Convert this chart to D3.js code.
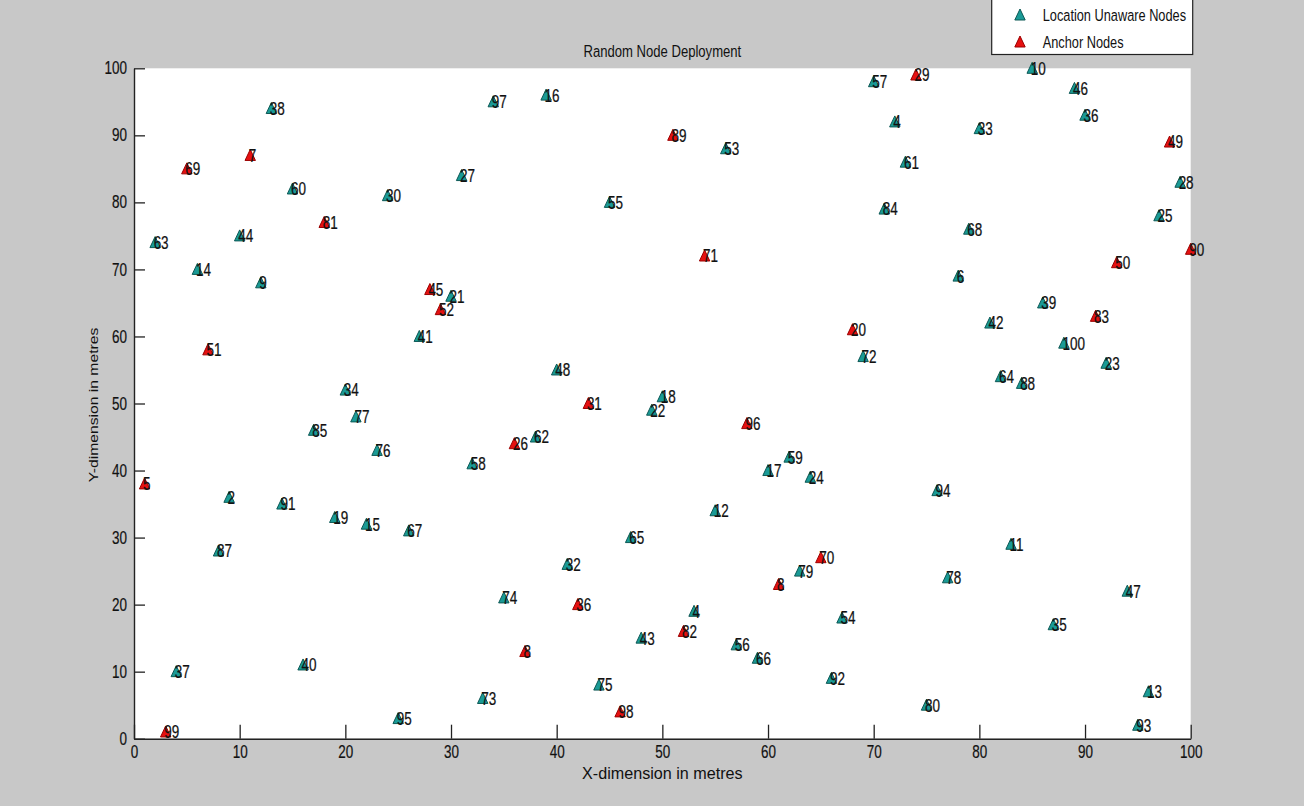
<!DOCTYPE html>
<html><head><meta charset="utf-8">
<script src="https://cdn.jsdelivr.net/npm/d3@7"></script>
<style>
html,body{margin:0;padding:0;background:#c8c8c8;}
svg{display:block;}
text{font-family:"Liberation Sans",Arial,sans-serif;fill:#111;}
</style></head>
<body>
<svg id="chart" width="1304" height="806"></svg>
<script>
// ---- data ----
const unawareX = [13,15,31,24,2,10,6,12, 34,39,56,45, 70,85,89,90,72,80,73,99,71,97,79,78,
  30,27,20,21,17,23,32,9,14,19,22, 40,50,49,38,62,60,64,55, 86,81,88,69,92,82,84,76,
  26,8,4,16,25, 47,41,63,35,53,67,48,57,59,66,44,33, 83,77,94,87,96,75,95];
const unawareY = [94,82,84,81,74,75,70,68, 95,96,88,80, 98,100,97,93,92,91,86,83,79,78,76,69,
  66,60,52,48,46,43,41,36,35,33,32, 55,51,49,45,42,40,39,34, 65,62,59,57,56,54,53,37,
  31,28,10,11,3, 30,26,25,21,19,18,15,14,12,9,8,6, 29,24,22,17,7,5,2];
const unawareLabel = ["38","60","27","30","63","44","14","9", "97","16","53","55",
  "57","10","46","36","4","33","61","28","84","25","68","6",
  "21","41","34","77","85","76","58","2","91","19","15", "48","18","22","62","59","17","24","12",
  "39","42","100","72","23","64","88","94", "67","87","37","40","95",
  "65","32","79","74","4","54","43","56","66","92","75","73", "11","78","47","35","13","80","93"];

const anchorX = [11,5,18,28,29,7,51,54,74,98,100,93,91,68,43,58,36,1,3,65,61,42,52,37,46];
const anchorY = [87,85,77,67,64,58,90,72,99,89,73,71,63,61,50,47,44,38,1,27,23,20,16,13,4];
const anchorLabel = ["7","69","81","45","52","51","89","71","29","49","90","50","83","20",
  "31","96","26","5","99","70","8","36","82","8","98"];

const xTicks = [0,10,20,30,40,50,60,70,80,90,100];
const yTicks = [0,10,20,30,40,50,60,70,80,90,100];
const seriesNames = ["Location Unaware Nodes","Anchor Nodes"];
const chartTitle = "Random Node Deployment";
const xTitle = "X-dimension in metres";
const yTitle = "Y-dimension in metres";

// ---- layout ----
const SX = 0.77; // horizontal text squash
const svg = d3.select("#chart");
const L = 134, R = 1190.7, T = 68.3, B = 738.7;
const x = d3.scaleLinear().domain([0,100]).range([L,R]);
const y = d3.scaleLinear().domain([0,100]).range([B,T]);
const teal = "#1a9a96", tealEdge = "#0d5855";
const red = "#e61010", redEdge = "#9a0000";

svg.append("rect").attr("width",1304).attr("height",806).attr("fill","#c8c8c8");
svg.append("rect").attr("x",L).attr("y",T).attr("width",R-L).attr("height",B-T).attr("fill","#fff");

const tri = "M0,-6L5.2,5L-5.2,5Z";

function nodes(xs, ys, labels, fill, edge){
  const g = svg.append("g");
  const d = xs.map((v,i)=>({x:v,y:ys[i],l:labels[i]}));
  g.selectAll("path").data(d).join("path")
    .attr("d",tri)
    .attr("transform",p=>`translate(${x(p.x)},${y(p.y)})`)
    .attr("fill",fill).attr("stroke",edge).attr("stroke-width",1);
  return d;
}
const dU = nodes(unawareX, unawareY, unawareLabel, teal, tealEdge);
const dA = nodes(anchorX, anchorY, anchorLabel, red, redEdge);

const lg = svg.append("g");
lg.selectAll("text").data(dU.concat(dA)).join("text")
  .attr("transform",p=>`translate(${x(p.x)-1.5},${y(p.y)+6.4}) scale(${SX},1)`)
  .style("font-size","17.5px").attr("stroke","#111").attr("stroke-width",0.25)
  .text(p=>p.l);

// axes
const xa = svg.append("g").attr("transform",`translate(0,${B})`)
  .call(d3.axisBottom(x).tickValues(xTicks).tickSizeInner(-14).tickSizeOuter(0).tickPadding(6.5).tickFormat(d3.format("d")));
const ya = svg.append("g").attr("transform",`translate(${L},0)`)
  .call(d3.axisLeft(y).tickValues(yTicks).tickSizeInner(-11).tickSizeOuter(0).tickPadding(9).tickFormat(d3.format("d")));
[xa,ya].forEach(a=>{
  a.select(".domain").attr("stroke","#222").attr("stroke-width",1.4);
  a.selectAll(".tick line").attr("stroke","#222").attr("stroke-width",1.3);
  a.selectAll(".tick text").attr("fill","#111").style("font-size","17.5px")
    .style("font-family","'Liberation Sans',Arial,sans-serif")
    .attr("stroke","#111").attr("stroke-width",0.2)
    .attr("transform",`scale(${SX},1)`);
});

// titles
svg.append("text").attr("transform",`translate(${(L+R)/2},56.5) scale(${SX},1)`)
  .attr("text-anchor","middle").style("font-size","17px").text(chartTitle);
svg.append("text").attr("transform",`translate(${(L+R)/2},779) scale(0.95,1)`)
  .attr("text-anchor","middle").style("font-size","17px").text(xTitle);
svg.append("text").attr("transform",`translate(98,405) scale(${SX},1) rotate(-90)`)
  .attr("text-anchor","middle").style("font-size","15.7px").text(yTitle);

// legend
const leg = svg.append("g");
leg.append("rect").attr("x",991.7).attr("y",-5).attr("width",201).attr("height",59.5)
  .attr("fill","#fff").attr("stroke","#222").attr("stroke-width",1.2);
const legItems = [{n:seriesNames[0],f:teal,e:tealEdge,yy:15},{n:seriesNames[1],f:red,e:redEdge,yy:42}];
legItems.forEach(it=>{
  leg.append("path").attr("d",tri).attr("transform",`translate(1020,${it.yy})`)
    .attr("fill",it.f).attr("stroke",it.e).attr("stroke-width",1);
  leg.append("text").attr("transform",`translate(1042.7,${it.yy+6})`+` scale(${SX},1)`)
    .style("font-size","16.6px").text(it.n);
});
</script>
</body></html>
